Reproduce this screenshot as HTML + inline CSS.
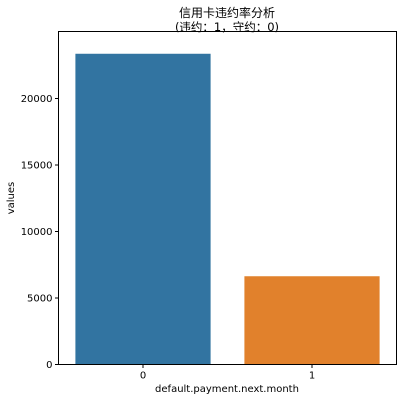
<!DOCTYPE html>
<html><head><meta charset="utf-8">
<style>
html,body{margin:0;padding:0;background:#fff;}
svg{display:block;font-family:"DejaVu Sans","Liberation Sans","Noto Sans CJK SC",sans-serif;}
</style></head>
<body>
<svg id="chart" width="405" height="402" viewBox="0 0 405 402">
<text x="227" y="17" text-anchor="middle" font-size="12" font-family="'DejaVu Sans','Noto Sans CJK SC',sans-serif">信用卡违约率分析</text>
<text x="227" y="31" text-anchor="middle" font-size="11.5" font-family="'DejaVu Sans','Noto Sans CJK SC',sans-serif">(违约：1，守约：0)</text>
<g id="bars"></g>
<g id="yticks"></g>
<g id="xticks"></g>
<rect x="58.5" y="31.5" width="338" height="333" fill="none" stroke="#000" stroke-width="1"/>
<text x="227" y="392" text-anchor="middle" font-size="10">default.payment.next.month</text>
<text x="14" y="198" text-anchor="middle" font-size="10" transform="rotate(-90 14 198)">values</text>
</svg>
<script>
const categories = ["0", "1"];
const values = [23364, 6636];
const yTicks = [0, 5000, 10000, 15000, 20000];
const colors = ["#3274a1", "#e1812c"];

const ns = "http://www.w3.org/2000/svg";
const X0 = 58.5, W = 338, Y0 = 364.5, PX_PER = 266 / 20000;
function y(v){ return Y0 - v * PX_PER; }
function xc(i){ return X0 + W / categories.length * (i + 0.5); }
const bw = W / categories.length * 0.8;

const bars = document.getElementById("bars");
values.forEach((v, i) => {
  const r = document.createElementNS(ns, "rect");
  r.setAttribute("x", xc(i) - bw / 2);
  r.setAttribute("y", y(v));
  r.setAttribute("width", bw);
  r.setAttribute("height", Y0 - y(v));
  r.setAttribute("fill", colors[i % colors.length]);
  
  
  bars.appendChild(r);
});

const yg = document.getElementById("yticks");
yTicks.forEach(t => {
  const l = document.createElementNS(ns, "line");
  l.setAttribute("x1", X0 - 3.5); l.setAttribute("x2", X0);
  l.setAttribute("y1", y(t)); l.setAttribute("y2", y(t));
  l.setAttribute("stroke", "#000");
  
  
  yg.appendChild(l);
  const tx = document.createElementNS(ns, "text");
  tx.setAttribute("x", X0 - 6); tx.setAttribute("y", y(t) + 3.5);
  tx.setAttribute("text-anchor", "end"); tx.setAttribute("font-size", "10");
  tx.textContent = t;
  
  
  yg.appendChild(tx);
});

const xg = document.getElementById("xticks");
categories.forEach((c, i) => {
  const l = document.createElementNS(ns, "line");
  l.setAttribute("x1", xc(i)); l.setAttribute("x2", xc(i));
  l.setAttribute("y1", Y0); l.setAttribute("y2", Y0 + 3.5);
  l.setAttribute("stroke", "#000");
  
  
  xg.appendChild(l);
  const tx = document.createElementNS(ns, "text");
  tx.setAttribute("x", xc(i)); tx.setAttribute("y", Y0 + 14);
  tx.setAttribute("text-anchor", "middle"); tx.setAttribute("font-size", "10");
  tx.textContent = c;
  
  
  xg.appendChild(tx);
});
</script>
</body></html>
